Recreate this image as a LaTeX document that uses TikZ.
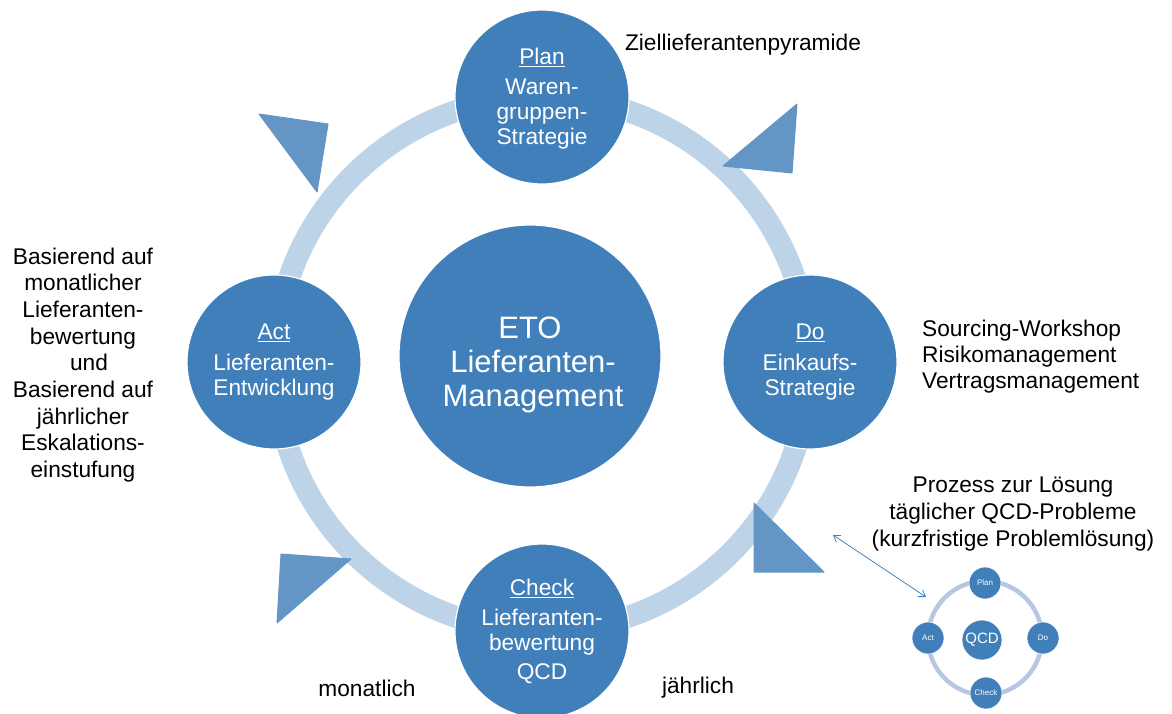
\documentclass[tikz,border=0pt]{standalone}
\usepackage{fontspec}
\setmainfont{Liberation Sans}
\usepackage{tikz}
\usetikzlibrary{arrows.meta}
\pgfdeclarelayer{background}
\pgfdeclarelayer{foreground}
\pgfsetlayers{background,main,foreground}
\definecolor{phaseblue}{RGB}{64,127,186}
\definecolor{ringblue}{RGB}{189,211,232}
\definecolor{turnblue}{RGB}{99,149,197}
\definecolor{miniring}{RGB}{184,198,228}
\newcommand{\txtsize}{\fontsize{22.7}{25}\selectfont}
\tikzset{
  phase/.style={circle,fill=phaseblue,draw=white,line width=1.2pt,minimum size=174pt,inner sep=0pt,text=white,align=center,font=\txtsize},
  note/.style={align=center,inner sep=0pt,font=\fontsize{22.7}{26.7}\selectfont},
  turn/.style={fill=turnblue,draw=turnblue,line width=1pt,line join=round},
  mini/.style={circle,fill=phaseblue,draw=white,line width=0.6pt,minimum size=32pt,inner sep=0pt,text=white,font=\fontsize{8}{9}\selectfont},
}

\begin{document}
\begin{tikzpicture}[x=1pt,y=-1pt]
\useasboundingbox (0,0) rectangle (1172,713);
\begin{pgfonlayer}{background}
\draw[ringblue,line width=22pt] (542,364) circle (267); %cycle
\draw[miniring,line width=4.5pt] (985,638) circle (57); %small cycle
\end{pgfonlayer}
% turning arrows
\draw[turn] (259,114) -- (328,124) -- (317,192) -- cycle;
\draw[turn] (797,104) -- (792,173) -- (723,166) -- cycle;
\draw[turn] (754,503) -- (754,572) -- (824,572) -- cycle;
\draw[turn] (351,559) -- (277,623) -- (281,554) -- cycle;
% phases
\node[phase] (plan) at (542,97) {\rule{0pt}{20pt}\underline{Plan}\\[5pt]Waren-\\gruppen-\\Strategie};
\node[phase] (do) at (810,362) {\underline{Do}\\[6pt]Einkaufs-\\Strategie};
\node[phase] (check) at (542,631) {\underline{Check}\\[5pt]Lieferanten-\\bewertung\\[4pt]QCD};
\node[phase] (act) at (274,362) {\underline{Act}\\[6pt]Lieferanten-\\Entwicklung};
\node[phase,minimum size=262pt,font=\fontsize{31}{34}\selectfont] (eto) at (530,356) {\rule{0pt}{40pt}ETO\\\hspace*{6pt}Lieferanten-\\\hspace*{6pt}Management};
% notes
\node[note] (ziel) at (743,45) {Ziellieferantenpyramide};
\node[note] (basis) at (83,365) {Basierend auf\\monatlicher\\Lieferanten-\\bewertung\\\hspace*{12pt}und\\Basierend auf\\jährlicher\\Eskalations-\\einstufung};
\node[note,align=left,anchor=west,font=\fontsize{22.7}{26}\selectfont] (sourcing) at (922,357) {Sourcing-Workshop\\Risikomanagement\\Vertragsmanagement};
\node[note,font=\fontsize{22.7}{27}\selectfont] (prozess) at (1013,514) {Prozess zur Lösung\\täglicher QCD-Probleme\\(kurzfristige Problemlösung)};
\node[note] (monat) at (367,688) {monatlich};
\node[note] (jahr) at (698,688) {jährlich};
% small cycle
\node[mini,minimum size=40pt,font=\fontsize{15}{16}\selectfont] (qcd) at (982,640) {QCD};
\node[mini] (splan) at (985,583) {Plan};
\node[mini] (sdo) at (1043,638) {Do};
\node[mini] (scheck) at (986,693) {Check};
\node[mini] (sact) at (928,638) {Act};
\coordinate (from) at (833,535);
\coordinate (to) at (926,597);
\draw[{Straight Barb[length=6pt,width=8pt]}-{Straight Barb[length=6pt,width=8pt]},phaseblue,line width=0.8pt] (from) -- (to);
\end{tikzpicture}
\end{document}
